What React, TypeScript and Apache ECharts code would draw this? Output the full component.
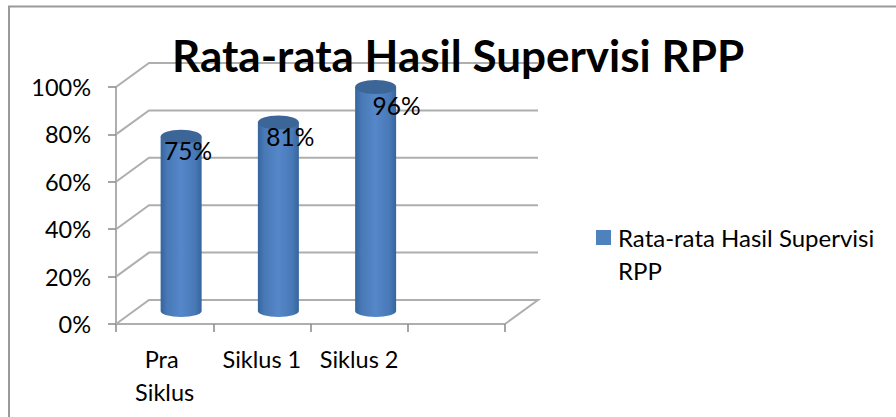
import React, { useEffect, useRef } from "react";
import * as echarts from "echarts";

const categories = ["Pra Siklus", "Siklus 1", "Siklus 2", ""];
const seriesName = "Rata-rata Hasil Supervisi RPP";
const values = [75, 81, 96, null];
const labels = ["75%", "81%", "96%", ""];
const yTicks = [0, 20, 40, 60, 80, 100];
const labelShift = [[7, 14], [12, 14], [21, 19], [0, 0]];
const FONT = "Lato";
const GRID_COLOR = "#aeaeae";
const DX = 33;
const DY = -24;

export default function App() {
  const ref = useRef<HTMLDivElement>(null);
  useEffect(() => {
    document.body.style.margin = "0";
    const chart = echarts.init(ref.current!, undefined, { renderer: "svg" });
    const bodyGradient = (x0: number, x1: number) => ({
      type: "linear", x: x0, y: 0, x2: x1, y2: 0, global: true,
      colorStops: [
        { offset: 0, color: "#35659d" },
        { offset: 0.15, color: "#4878b5" },
        { offset: 0.5, color: "#5587ca" },
        { offset: 0.85, color: "#4878b5" },
        { offset: 1, color: "#35659d" },
      ],
    });
    chart.setOption({
      animation: false,
      backgroundColor: "#ffffff",
      textStyle: { fontFamily: FONT },
      title: {
        text: seriesName,
        left: 172,
        top: 33,
        padding: 0,
        textStyle: { fontFamily: FONT, fontSize: 44, fontWeight: "bold", color: "#000" },
        z: 10,
      },
      legend: {
        left: 596,
        top: 188,
        padding: 0,
        itemWidth: 15,
        itemHeight: 15,
        itemGap: 0,
        icon: "rect",
        data: [{ name: seriesName, itemStyle: { color: "#4f81bd" } }],
        formatter: (name: string) => "\n" + name,
        textStyle: {
          fontFamily: FONT, fontSize: 24, color: "#000", width: 295,
          overflow: "break", lineHeight: 33, padding: [0, 0, 0, 2],
        },
      },
      grid: { left: 116, right: 391, top: 87, bottom: 93 },
      xAxis: {
        type: "category",
        data: categories,
        axisLine: { show: true, lineStyle: { color: GRID_COLOR, width: 2 } },
        axisTick: { show: true, length: 8, alignWithLabel: false, lineStyle: { color: "#888", width: 1.5 } },
        axisLabel: {
          interval: 0, color: "#000", fontFamily: FONT, fontSize: 23.5, margin: 18,
          width: 90, overflow: "break", lineHeight: 33,
        },
        splitLine: { show: false },
      },
      yAxis: {
        type: "value",
        min: 0,
        max: 100,
        interval: 20,
        axisLine: { show: true, lineStyle: { color: GRID_COLOR, width: 2 } },
        axisTick: { show: true, length: 8, lineStyle: { color: "#888", width: 1.5 } },
        axisLabel: { formatter: "{value}%", color: "#000", fontFamily: FONT, fontSize: 23.5, margin: 25 },
        splitLine: { show: false },
      },
      graphic: [
        {
          type: "polyline",
          silent: true,
          shape: { points: [[9, 417], [9, 6.5], [896, 6.5]] },
          style: { stroke: "#9a9a9a", lineWidth: 2, fill: "none" },
        },
      ],
      series: [
        {
          type: "custom",
          name: "walls",
          silent: true,
          z: 1,
          data: yTicks.map((t) => [t]),
          encode: { y: 0 },
          renderItem: (_p: any, api: any) => {
            const v = api.value(0);
            const [xl, y] = api.coord([0, v]);
            const size = api.size([1, 0]);
            const x0 = xl - size[0] / 2;
            const x1 = x0 + size[0] * 4;
            const style = { stroke: GRID_COLOR, lineWidth: 2, fill: "none" };
            const points = v === 0
              ? [[x0, y], [x0 + DX, y + DY], [x1 + DX, y + DY], [x1, y]]
              : [[x0, y], [x0 + DX, y + DY], [x1 + DX, y + DY]];
            return { type: "polyline", shape: { points }, style };
          },
        },
        {
          type: "custom",
          name: seriesName,
          silent: true,
          z: 3,
          data: values.map((v, i) => [i, v]).filter((d) => d[1] !== null),
          encode: { x: 0, y: 1 },
          renderItem: (_p: any, api: any) => {
            const i = api.value(0);
            const v = api.value(1);
            const [cx0, yTop0] = api.coord([i, v]);
            const [, yBase0] = api.coord([i, 0]);
            const cx = cx0 + DX / 2;
            const yTop = yTop0 - 9.5;
            const yBase = yBase0 - 13;
            const rx = 20.5;
            const x0 = cx - rx;
            const x1 = cx + rx;
            const pathData = `M${x0} ${yTop}L${x0} ${yBase}A${rx} 6 0 0 0 ${x1} ${yBase}L${x1} ${yTop}Z`;
            return {
              type: "group",
              children: [
                { type: "path", shape: { pathData, x: x0, y: yTop, width: rx * 2, height: yBase - yTop + 6 }, style: { fill: bodyGradient(x0, x1) } },
                { type: "ellipse", shape: { cx, cy: yTop, rx, ry: 7 }, style: { fill: "#3c6698" } },
                {
                  type: "text",
                  style: {
                    text: labels[i], x: cx + labelShift[i][0], y: yTop + labelShift[i][1], align: "center", verticalAlign: "middle",
                    fontFamily: FONT, fontSize: 24.5, fill: "#000",
                  },
                },
              ],
            };
          },
        },
      ],
    });
    return () => chart.dispose();
  }, []);
  return <div ref={ref} style={{ width: 896, height: 417 }} />;
}
